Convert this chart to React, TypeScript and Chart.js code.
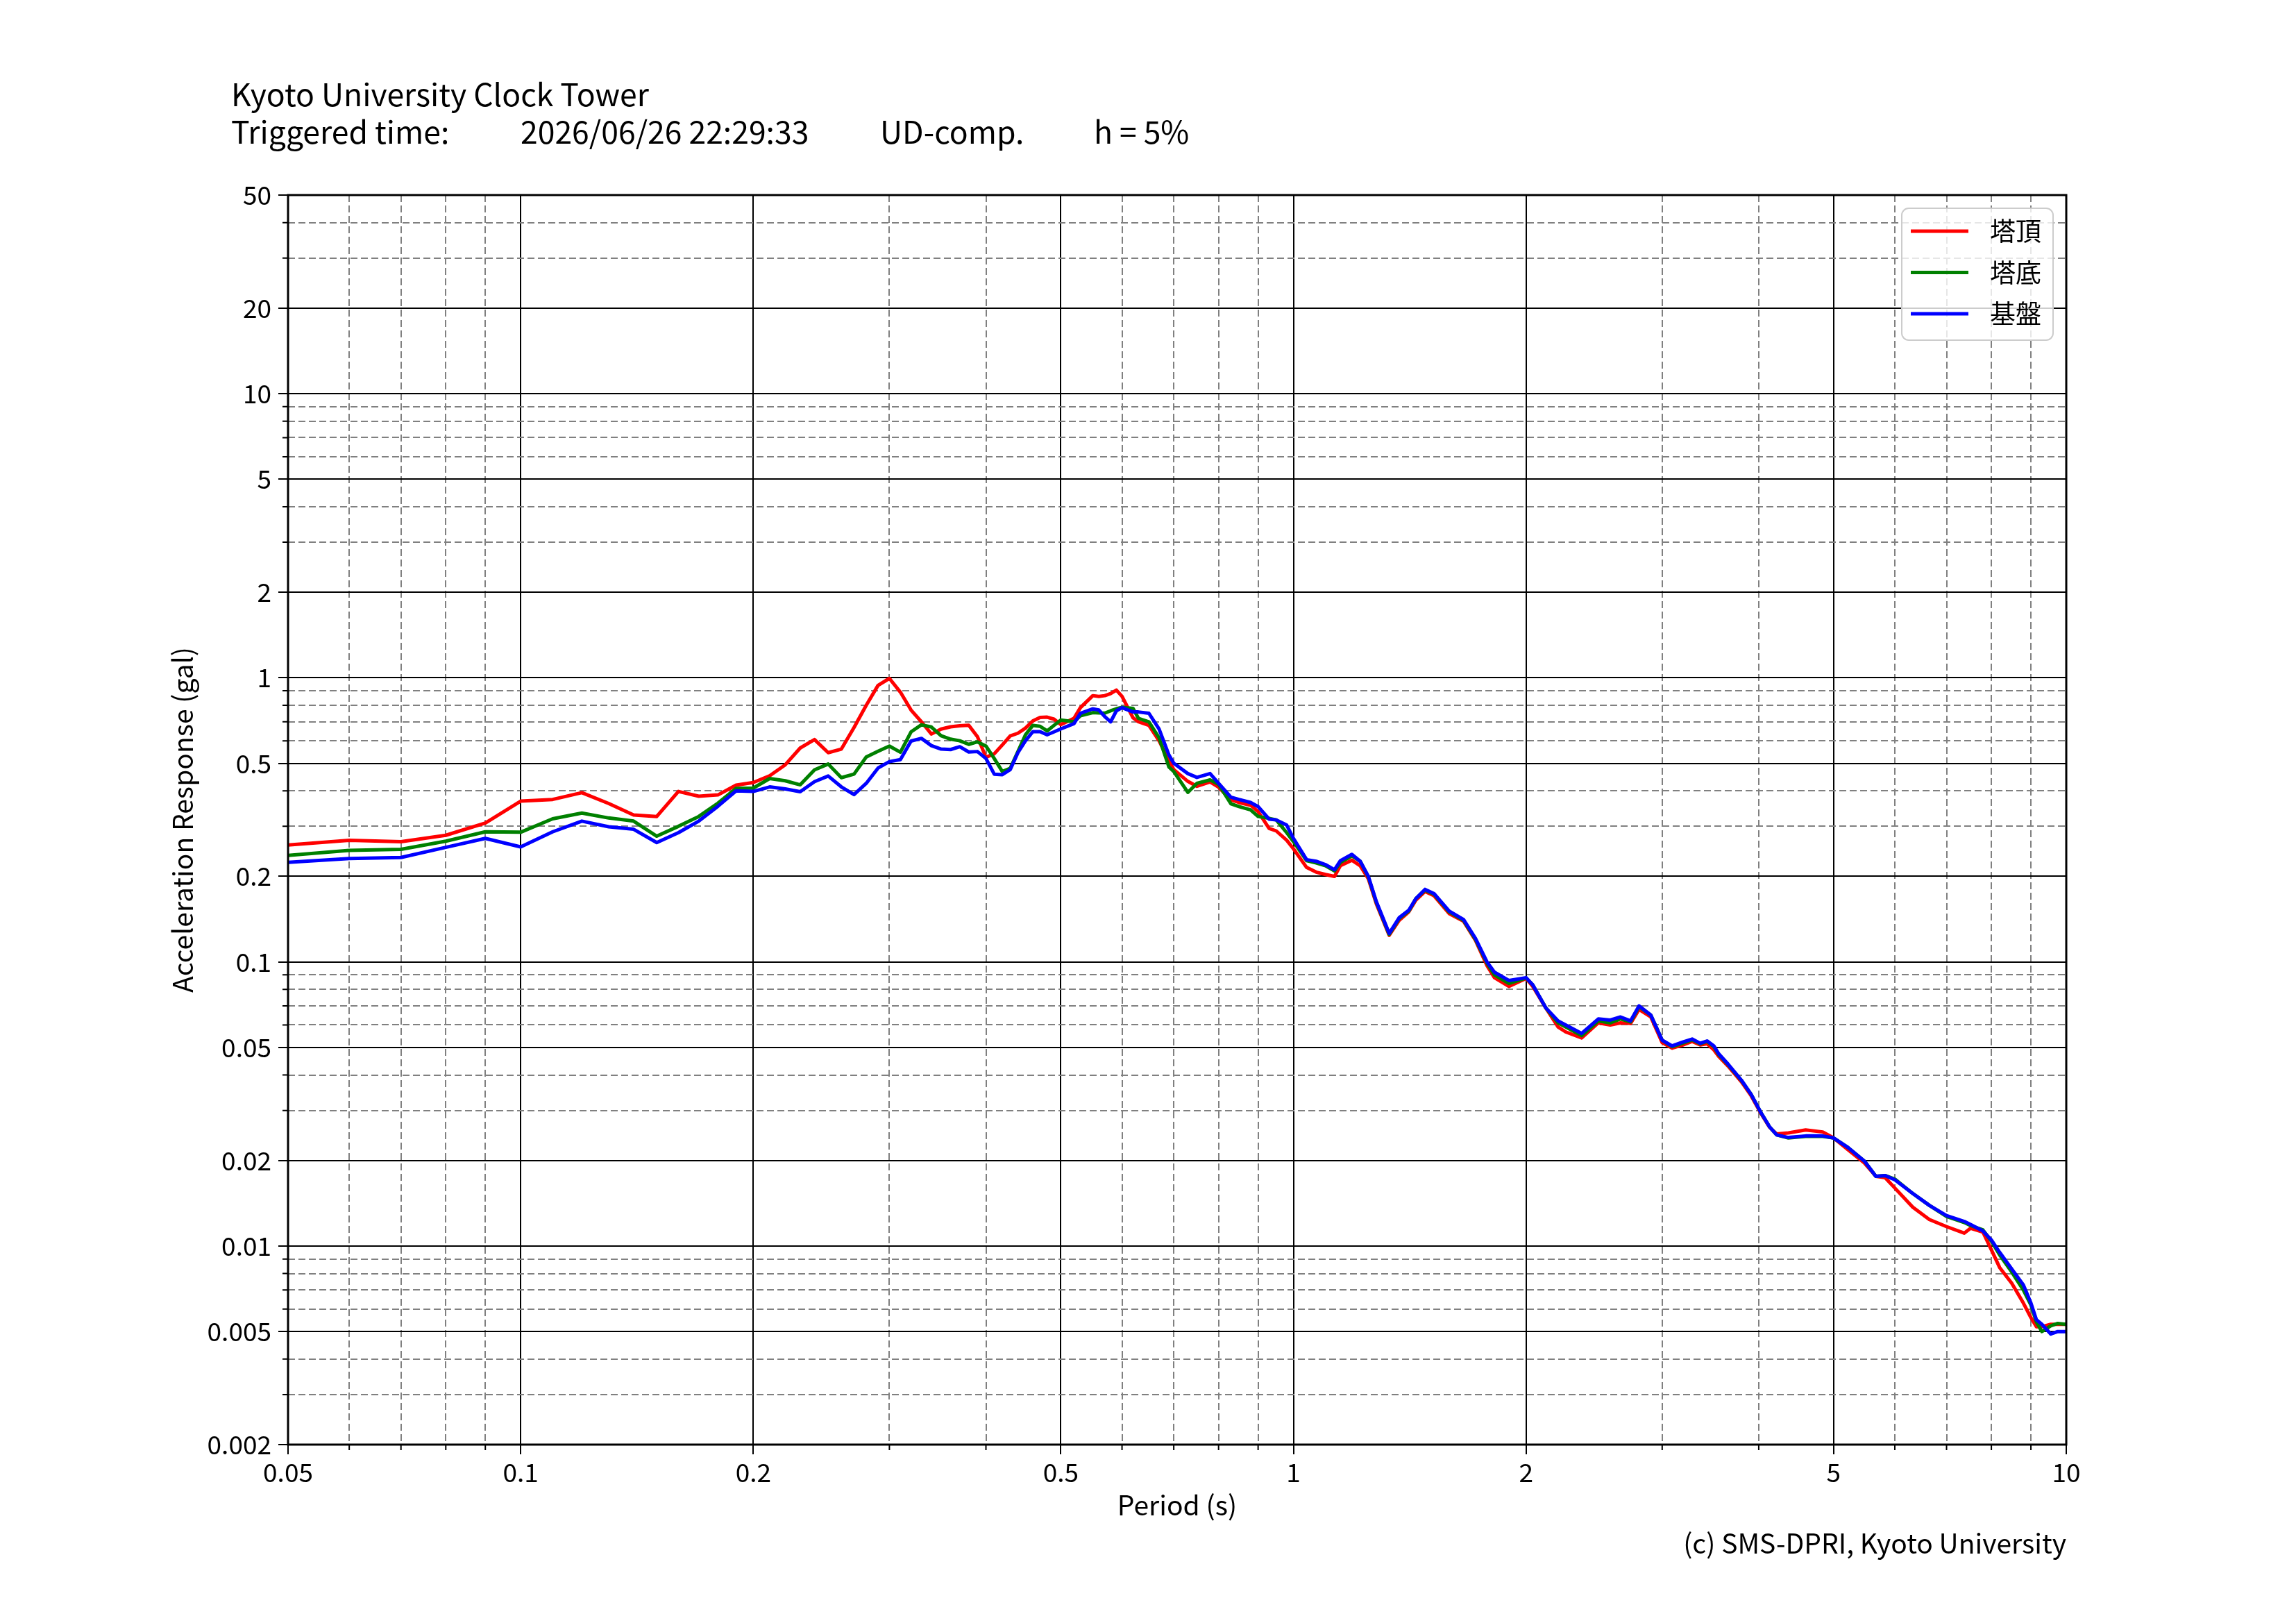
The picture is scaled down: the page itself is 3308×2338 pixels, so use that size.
import { useEffect, useRef } from 'react'
import { Chart, registerables, type ChartConfiguration, type Plugin } from 'chart.js'

Chart.register(...registerables)

const WIDTH = 3308
const HEIGHT = 2338
const FONT = "'Noto Sans CJK JP', 'Noto Sans', sans-serif"

// 周期 (s)
const periods = [
  0.05, 0.06, 0.07, 0.08, 0.09,
  0.1, 0.11, 0.12, 0.13, 0.14, 0.15, 0.16, 0.17, 0.18, 0.19,
  0.2, 0.21, 0.22, 0.23, 0.24, 0.25, 0.26, 0.27, 0.28, 0.29,
  0.3, 0.31, 0.32, 0.33, 0.34, 0.35, 0.36, 0.37, 0.38, 0.39,
  0.4, 0.41, 0.42, 0.43, 0.44, 0.45, 0.46, 0.47, 0.48, 0.49,
  0.5, 0.52, 0.53, 0.55, 0.56, 0.57, 0.58, 0.59, 0.6, 0.62,
  0.63, 0.65, 0.67, 0.69, 0.7, 0.73, 0.75, 0.78, 0.8, 0.83,
  0.85, 0.88, 0.9, 0.93, 0.95, 0.98, 1.0, 1.04, 1.07, 1.1,
  1.13, 1.15, 1.19, 1.22, 1.25, 1.28, 1.33, 1.37, 1.41, 1.44,
  1.48, 1.52, 1.59, 1.66, 1.72, 1.78, 1.82, 1.9, 2.0, 2.04,
  2.12, 2.2, 2.25, 2.36, 2.48, 2.57, 2.65, 2.73, 2.8, 2.9,
  3.0, 3.09, 3.19, 3.28, 3.36, 3.43, 3.5, 3.55, 3.65, 3.8,
  3.91, 4.02, 4.13, 4.22, 4.37, 4.6, 4.84, 5.0, 5.22, 5.48,
  5.67, 5.83, 6.0, 6.33, 6.65, 7.0, 7.38, 7.52, 7.8, 8.0,
  8.2, 8.5, 8.8, 9.0, 9.15, 9.3, 9.55, 9.75, 10,
]

// 塔頂
const towerTop = [
  0.258, 0.268, 0.265, 0.279, 0.308,
  0.368, 0.373, 0.394, 0.361, 0.329, 0.325, 0.398, 0.383, 0.387, 0.419,
  0.428, 0.452, 0.494, 0.566, 0.606, 0.545, 0.561, 0.668, 0.8, 0.94,
  0.995, 0.89, 0.77, 0.7, 0.634, 0.66, 0.672, 0.678, 0.681, 0.62,
  0.525, 0.54, 0.58, 0.624, 0.638, 0.665, 0.705, 0.725, 0.727, 0.715,
  0.684, 0.72, 0.785, 0.865, 0.86, 0.865, 0.88, 0.905, 0.86, 0.723,
  0.7, 0.68, 0.6, 0.512, 0.475, 0.432, 0.415, 0.43, 0.412, 0.372,
  0.364, 0.356, 0.338, 0.295, 0.289, 0.268, 0.25, 0.215, 0.207, 0.203,
  0.2, 0.218, 0.228, 0.218, 0.196, 0.16, 0.124, 0.14, 0.15, 0.165,
  0.177, 0.171, 0.148, 0.139, 0.119, 0.097, 0.088, 0.082, 0.0875, 0.082,
  0.069, 0.059, 0.0567, 0.054, 0.061, 0.06, 0.061, 0.0607, 0.068, 0.064,
  0.052, 0.0497, 0.051, 0.0525, 0.051, 0.0515, 0.049, 0.0465, 0.043, 0.0378,
  0.0338, 0.0295, 0.0262, 0.0248, 0.025, 0.0256, 0.0252, 0.024, 0.0218, 0.0196,
  0.0176, 0.0174, 0.016, 0.0137, 0.0124, 0.0117, 0.0111, 0.01155, 0.0112, 0.0097,
  0.0084, 0.0074, 0.0063, 0.0056, 0.0052, 0.0052, 0.0053, 0.0053, 0.0053,
]

// 塔底
const towerBase = [
  0.237, 0.247, 0.249, 0.266, 0.287,
  0.286, 0.319, 0.334, 0.321, 0.313, 0.277, 0.3, 0.325, 0.362, 0.408,
  0.409, 0.442, 0.434, 0.42, 0.474, 0.497, 0.445, 0.458, 0.526, 0.551,
  0.575, 0.547, 0.645, 0.683, 0.671, 0.625, 0.608, 0.6, 0.583, 0.595,
  0.575, 0.52, 0.468, 0.48, 0.55, 0.63, 0.68, 0.675, 0.65, 0.68,
  0.71, 0.7, 0.735, 0.754, 0.752, 0.751, 0.765, 0.778, 0.787, 0.78,
  0.72, 0.7, 0.615, 0.485, 0.468, 0.395, 0.425, 0.437, 0.422, 0.36,
  0.352, 0.343, 0.325, 0.32, 0.316, 0.285, 0.265, 0.227, 0.223, 0.218,
  0.209, 0.224, 0.236, 0.226, 0.199, 0.162, 0.125, 0.142, 0.151, 0.167,
  0.179, 0.173, 0.15, 0.14, 0.12, 0.099, 0.09, 0.084, 0.0878, 0.083,
  0.069, 0.061, 0.059, 0.055, 0.062, 0.061, 0.063, 0.0615, 0.0695, 0.065,
  0.053, 0.0503, 0.0518, 0.0532, 0.0515, 0.0525, 0.0503, 0.0472, 0.0435, 0.0382,
  0.0342, 0.0297, 0.0263, 0.0246, 0.024, 0.0243, 0.0243, 0.024, 0.0222, 0.0199,
  0.0176, 0.0177, 0.0172, 0.0153, 0.0139, 0.0127, 0.0121, 0.0118, 0.0114, 0.0104,
  0.0093, 0.0081, 0.007, 0.0062, 0.0054, 0.005, 0.00524, 0.00534, 0.0053,
]

// 基盤
const foundation = [
  0.224, 0.231, 0.233, 0.253, 0.272,
  0.254, 0.287, 0.313, 0.299, 0.293, 0.263, 0.285, 0.313, 0.353, 0.4,
  0.398, 0.413, 0.406, 0.397, 0.431, 0.451, 0.413, 0.388, 0.425, 0.481,
  0.507, 0.515, 0.599, 0.612, 0.577, 0.561, 0.559, 0.572, 0.548, 0.55,
  0.52, 0.458, 0.456, 0.475, 0.545, 0.6, 0.646, 0.646, 0.63, 0.645,
  0.661, 0.69, 0.75, 0.777, 0.77, 0.73, 0.7, 0.765, 0.785, 0.758,
  0.758, 0.75, 0.66, 0.535, 0.5, 0.46, 0.446, 0.46, 0.425, 0.38,
  0.373, 0.364, 0.352, 0.318, 0.316, 0.303, 0.272, 0.229, 0.226, 0.22,
  0.211, 0.227, 0.239, 0.226, 0.2, 0.163, 0.126, 0.143, 0.152, 0.167,
  0.18, 0.174, 0.151, 0.141, 0.121, 0.1, 0.092, 0.086, 0.088, 0.083,
  0.069, 0.062, 0.06, 0.056, 0.063, 0.0624, 0.064, 0.062, 0.07, 0.065,
  0.053, 0.0506, 0.0522, 0.0535, 0.0517, 0.0527, 0.0506, 0.0475, 0.0437, 0.0383,
  0.0342, 0.0297, 0.0263, 0.0246, 0.0241, 0.0244, 0.0244, 0.024, 0.0222, 0.0199,
  0.0176, 0.0177, 0.0171, 0.0153, 0.0139, 0.0128, 0.0122, 0.0119, 0.0113, 0.0105,
  0.0095, 0.0083, 0.0073, 0.0063, 0.0055, 0.0053, 0.0049, 0.005, 0.005,
]

const seriesLabels = ['塔頂', '塔底', '基盤']
const seriesColors = ['#ff0000', '#008000', '#0000ff']
const seriesValues = [towerTop, towerBase, foundation]

const xTickLabels = [0.05, 0.1, 0.2, 0.5, 1, 2, 5, 10]
const yTickLabels = [0.002, 0.005, 0.01, 0.02, 0.05, 0.1, 0.2, 0.5, 1, 2, 5, 10, 20, 50]

const titleText = 'Kyoto University Clock Tower'
const headerItems = ['Triggered time:', '2026/06/26 22:29:33', 'UD-comp.', 'h = 5%']
const xTitle = 'Period (s)'
const yTitle = 'Acceleration Response (gal)'
const creditText = '(c) SMS-DPRI, Kyoto University'

// 対数軸の目盛り（1〜9 × 10^n）
const logTicks = (min: number, max: number) => {
  const out: number[] = []
  for (let e = Math.floor(Math.log10(min)); e <= Math.ceil(Math.log10(max)); e++) {
    for (let m = 1; m <= 9; m++) {
      const v = Number((m * Math.pow(10, e)).toPrecision(6))
      if (v >= min * 0.999999 && v <= max * 1.000001) out.push(v)
    }
  }
  return out
}

const isLabelled = (v: number, list: number[]) => list.some((t) => Math.abs(t - v) <= t * 1e-6)

const xTicks = logTicks(0.05, 10)
const yTicks = logTicks(0.002, 50)

const gridColor = (list: number[]) => (ctx: any) =>
  ctx.tick && !isLabelled(ctx.tick.value, list) ? '#808080' : '#000000'
const gridDash = (list: number[]) => (ctx: any) =>
  ctx.tick && !isLabelled(ctx.tick.value, list) ? [10, 5] : []
const tickColor = (list: number[]) => (ctx: any) =>
  ctx.tick && !isLabelled(ctx.tick.value, list) ? 'rgba(0,0,0,0)' : '#000000'

const decorPlugin: Plugin<'line'> = {
  id: 'decor',
  afterDraw(chart) {
    const { ctx, chartArea: a } = chart
    const xs = chart.scales.x
    const ys = chart.scales.y
    ctx.save()

    // 補助目盛り
    ctx.strokeStyle = '#000'
    ctx.lineWidth = 2
    ctx.beginPath()
    xTicks.filter((v) => !isLabelled(v, xTickLabels)).forEach((v) => {
      const px = xs.getPixelForValue(v)
      ctx.moveTo(px, a.bottom)
      ctx.lineTo(px, a.bottom + 8)
    })
    yTicks.filter((v) => !isLabelled(v, yTickLabels)).forEach((v) => {
      const py = ys.getPixelForValue(v)
      ctx.moveTo(a.left - 8, py)
      ctx.lineTo(a.left, py)
    })
    ctx.stroke()

    // 枠
    ctx.lineWidth = 3
    ctx.strokeRect(a.left, a.top, a.right - a.left, a.bottom - a.top)

    // 凡例
    const bw = 218
    const bh = 190
    const bx = a.right - 19 - bw
    const by = a.top + 19
    ctx.beginPath()
    ctx.roundRect(bx, by, bw, bh, 10)
    ctx.fillStyle = 'rgba(255,255,255,0.8)'
    ctx.fill()
    ctx.strokeStyle = '#cccccc'
    ctx.lineWidth = 2
    ctx.stroke()
    ctx.font = `37px ${FONT}`
    ctx.textAlign = 'left'
    ctx.textBaseline = 'middle'
    chart.data.datasets.forEach((ds, i) => {
      const y = by + 33 + i * 59.5
      ctx.strokeStyle = ds.borderColor as string
      ctx.lineWidth = 5
      ctx.beginPath()
      ctx.moveTo(bx + 13, y)
      ctx.lineTo(bx + 96, y)
      ctx.stroke()
      ctx.fillStyle = '#000'
      ctx.fillText(ds.label ?? '', bx + 127, y)
    })

    // 見出し
    ctx.fillStyle = '#000'
    ctx.textBaseline = 'alphabetic'
    ctx.font = `44.5px ${FONT}`
    ctx.fillText(titleText, 333, 153)
    const headerX = [333, 750, 1268, 1576]
    headerItems.forEach((t, i) => ctx.fillText(t, headerX[i], 207))

    // 軸ラベル
    ctx.font = `39px ${FONT}`
    ctx.textAlign = 'center'
    ctx.textBaseline = 'middle'
    ctx.fillText(xTitle, (a.left + a.right) / 2, 2168)
    ctx.save()
    ctx.translate(263, (a.top + a.bottom) / 2)
    ctx.rotate(-Math.PI / 2)
    ctx.fillText(yTitle, 0, 0)
    ctx.restore()

    ctx.textAlign = 'right'
    ctx.textBaseline = 'alphabetic'
    ctx.fillText(creditText, a.right, 2238)

    ctx.restore()
  },
}

export default function App() {
  const canvasRef = useRef<HTMLCanvasElement>(null)
  const chartRef = useRef<Chart | null>(null)

  useEffect(() => {
    document.body.style.margin = '0'
    if (!canvasRef.current) return
    if (chartRef.current) chartRef.current.destroy()

    const config: ChartConfiguration<'line'> = {
      type: 'line',
      data: {
        datasets: seriesValues.map((values, i) => ({
          label: seriesLabels[i],
          data: periods.map((x, j) => ({ x, y: values[j] })),
          borderColor: seriesColors[i],
          backgroundColor: seriesColors[i],
          borderWidth: 5,
          pointRadius: 0,
          tension: 0,
          fill: false,
          borderJoinStyle: 'round',
          borderCapStyle: 'round',
          order: seriesValues.length - i,
        })),
      },
      options: {
        responsive: false,
        devicePixelRatio: 1,
        animation: false,
        events: [],
        layout: { padding: { top: 281, right: 331, bottom: 0, left: 0 } },
        plugins: {
          legend: { display: false },
          title: { display: false },
          tooltip: { enabled: false },
        },
        scales: {
          x: {
            type: 'logarithmic',
            position: 'bottom',
            min: 0.05,
            max: 10,
            afterBuildTicks: (scale) => {
              scale.ticks = xTicks.map((value) => ({ value }))
            },
            afterFit: (scale) => {
              scale.height = HEIGHT - 2081
            },
            ticks: {
              autoSkip: false,
              maxRotation: 0,
              minRotation: 0,
              padding: 4,
              color: '#000',
              font: { family: FONT, size: 37 },
              callback: (value) => (isLabelled(Number(value), xTickLabels) ? String(Number(value)) : ''),
            },
            grid: {
              color: gridColor(xTickLabels),
              lineWidth: 2,
              drawTicks: true,
              tickLength: 14,
              tickWidth: 2,
              tickColor: tickColor(xTickLabels),
            },
            border: { display: false, dash: gridDash(xTickLabels) },
          },
          y: {
            type: 'logarithmic',
            position: 'left',
            min: 0.002,
            max: 50,
            afterBuildTicks: (scale) => {
              scale.ticks = yTicks.map((value) => ({ value }))
            },
            afterFit: (scale) => {
              scale.width = 415
            },
            ticks: {
              autoSkip: false,
              padding: 10,
              color: '#000',
              font: { family: FONT, size: 37 },
              callback: (value) => (isLabelled(Number(value), yTickLabels) ? String(Number(value)) : ''),
            },
            grid: {
              color: gridColor(yTickLabels),
              lineWidth: 2,
              drawTicks: true,
              tickLength: 14,
              tickWidth: 2,
              tickColor: tickColor(yTickLabels),
            },
            border: { display: false, dash: gridDash(yTickLabels) },
          },
        },
      },
      plugins: [decorPlugin],
    }

    chartRef.current = new Chart(canvasRef.current, config)

    return () => {
      if (chartRef.current) {
        chartRef.current.destroy()
        chartRef.current = null
      }
    }
  }, [])

  return (
    <canvas
      ref={canvasRef}
      width={WIDTH}
      height={HEIGHT}
      style={{ display: 'block', width: WIDTH, height: HEIGHT }}
    />
  )
}
